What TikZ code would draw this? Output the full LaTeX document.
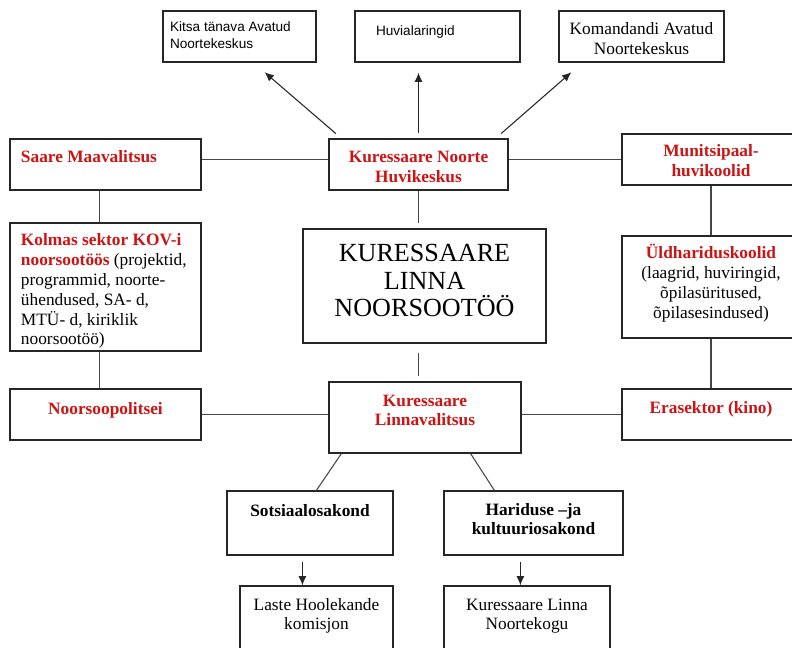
\documentclass[tikz,border=0pt]{standalone}
\usepackage{fontspec}
\setmainfont{Liberation Serif}
\setsansfont{Liberation Sans}
\usepackage{tikz}
\usetikzlibrary{arrows,arrows.meta,calc}
\definecolor{R}{RGB}{204,20,20}
\definecolor{K}{RGB}{70,70,70}
\tikzstyle{box} = [draw=black!85, line width=0.9pt,
inner ysep=0pt, inner xsep=4pt,
text height=18pt, align=flush center,
font=\fontsize{13}{14.85}\selectfont]
\tikzstyle{sans} = [font=\sffamily\fontsize{10.2}{12.75}\selectfont]
\tikzstyle{line} = [draw=K, line width=0.8pt]
\tikzstyle{arrow} = [-{Latex[length=7pt,width=6pt]}, draw=black!85, line width=0.8pt]
\newcommand{\rtitle}[1]{\textcolor{R}{\textbf{#1}}}
\begin{document}
\begin{tikzpicture}[x=0.75pt,y=-0.75pt]
\useasboundingbox (0,0) rectangle (792,648);
\clip (0,0) rectangle (792,648);
% top row
\node[box, sans, align=flush left, inner xsep=5.25pt, text width=104.25pt,
  text height=15.75pt, text depth=22.5pt] (kitsa) at (239.5,36.5)
  {Kitsa tänava Avatud\\Noortekeskus};
\node[box, sans, align=flush left, inner xsep=15.75pt, text width=92.25pt,
  text height=18.75pt, text depth=19.5pt] (huvi) at (437.5,36.5)
  {Huvialaringid};
\node[box, text width=115.75pt, text depth=20.25pt] (koman) at (641.5,36.5)
  {Komandandi Avatud\\Noortekeskus};
% second row
\node[box, align=flush left, inner xsep=8.25pt, text width=126.75pt,
  text depth=20.25pt] (saare) at (105.5,164.5)
  {\rtitle{Saare Maavalitsus}};
\node[box, text width=126.25pt, text depth=20.25pt] (noorte) at (418.5,164.5)
  {\rtitle{Kuressaare Noorte}\\\rtitle{Huvikeskus}};
\node[box, text width=125.5pt, text height=17.25pt, text depth=21pt]
  (munits) at (711,159.5)
  {\rtitle{Munitsipaal-}\\\rtitle{huvikoolid}};
% middle row
\node[box, align=flush left, inner xsep=8.25pt, text width=126.75pt,
  text height=17.25pt, text depth=78.75pt] (kolmas) at (105.5,287)
  {\rtitle{Kolmas sektor KOV-i}\\\rtitle{noorsootöös} (projektid,\\
  programmid, noorte-\\ühendused, SA- d,\\MTÜ- d, kiriklik\\noorsootöö)};
\node[box, text width=174.25pt, text height=24.75pt, text depth=60.75pt,
  font=\fontsize{19.6}{20.6}\selectfont] (linna) at (424.5,286)
  {KURESSAARE\\LINNA\\NOORSOOTÖÖ};
\node[box, text width=125.5pt, text height=17.25pt, text depth=59.25pt]
  (uld) at (711,287)
  {\rtitle{Üldhariduskoolid}\\(laagrid, huviringid,\\õpilasüritused,\\õpilasesindused)};
% fourth row
\node[box, text width=135.25pt, text height=18.75pt, text depth=19.5pt]
  (noorsoo) at (105.5,414.5) {\rtitle{Noorsoopolitsei}};
\node[box, text width=136pt, text depth=35.25pt] (linnav) at (425,417.5)
  {\rtitle{Kuressaare}\\\rtitle{Linnavalitsus}};
\node[box, text width=125.5pt, text depth=20.25pt] (era) at (711,414.5)
  {\rtitle{Erasektor (kino)}};
% bottom rows
\node[box, text width=116.5pt, text height=18.75pt, text depth=29.25pt]
  (sots) at (310,523) {\textbf{Sotsiaalosakond}};
\node[box, text width=126.25pt, text depth=30pt] (hari) at (533.5,523)
  {\textbf{Hariduse –ja}\\\textbf{kultuuriosakond}};
\node[box, text width=106.75pt, text depth=46.5pt] (laste) at (316.5,629)
  {Laste Hoolekande\\komisjon};
\node[box, text width=116.5pt, text depth=46.5pt] (kogu) at (527,629)
  {Kuressaare Linna\\Noortekogu};
% connectors
\draw[arrow, shorten <=5.5pt, shorten >=11pt] ($(noorte.north west)+(13,0)$) -- ($(kitsa.south west)+(91,0)$);
\draw[arrow, shorten <=3.75pt, shorten >=7.5pt] (noorte.north) -- (noorte.north |- huvi.south);
\draw[arrow, shorten <=5.5pt, shorten >=11pt] ($(noorte.north east)+(-13,0)$) -- ($(koman.south west)+(24,0)$);
\draw[line] (saare.east |- munits) -- (noorte.west |- munits);
\draw[line] (noorte.east |- munits) -- (munits.west);
\draw[line] ($(saare.south west)+(90,0)$) -- ($(kolmas.north west)+(90,0)$);
\draw[line] ($(kolmas.south west)+(90,0)$) -- ($(noorsoo.north west)+(90,0)$);
\draw[line] (munits.south) -- (uld.north);
\draw[line] (uld.south) -- (era.north);
\draw[line, shorten >=3.75pt] (noorte.south) -- (noorte.south |- linna.north);
\draw[line, shorten <=6.75pt, shorten >=3.75pt] (noorte.south |- linna.south) -- (noorte.south |- linnav.north);
\draw[line] (noorsoo.east) -- (linnav.west |- noorsoo.east);
\draw[line] (linnav.east |- era.west) -- (era.west);
\draw[line] ($(linnav.south west)+(13,0)$) -- ($(sots.north west)+(90,0)$);
\draw[line] ($(linnav.south east)+(-51,0)$) -- ($(hari.north west)+(51,0)$);
\draw[arrow, shorten <=4.5pt] ($(sots.south west)+(76,0)$) -- ($(laste.north west)+(63,0)$);
\draw[arrow, shorten <=4.5pt] ($(hari.south west)+(77,0)$) -- ($(kogu.north west)+(77,0)$);
\end{tikzpicture}
\end{document}
